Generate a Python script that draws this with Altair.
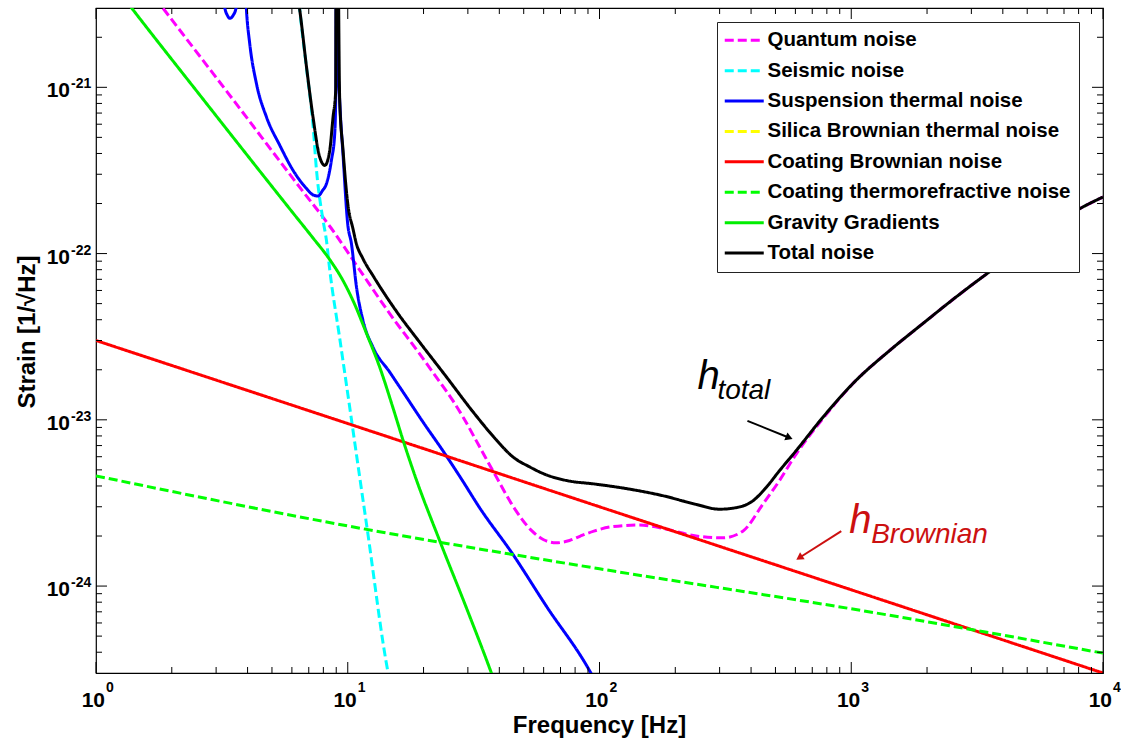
import altair as alt
import pandas as pd

FONT = "Liberation Sans"
W, H = 1007, 665  # plot area in pixels

# ---------------------------------------------------------------- noise curves
# frequency [Hz] / strain [1/sqrt(Hz)]
quantum_f = [1.6, 1.85, 3.51, 6.45, 8.6, 11.2, 14.7, 19.3, 22.4, 26.2, 28.7, 33.4,
             38.9, 45.3, 53.5, 60.0, 67.3, 76.0, 84.0, 95.0, 113, 144, 184, 242,
             309, 371, 445, 518, 603, 769, 1042, 1416, 1919, 2600, 3750, 8280,
             10000]
quantum_h = [3.98e-21, 2.98e-21, 8.4e-22, 2.5e-22, 1.42e-22, 7.9e-23, 4.34e-23,
             2.49e-23, 1.82e-23, 1.30e-23, 1.04e-23, 6.88e-24, 4.54e-24, 3.03e-24,
             2.17e-24, 1.9e-24, 1.82e-24, 1.88e-24, 2.0e-24, 2.14e-24, 2.28e-24,
             2.33e-24, 2.2e-24, 2.0e-24, 1.95e-24, 2.14e-24, 3.1e-24, 4.3e-24,
             6.2e-24, 1.01e-23, 1.72e-23, 2.6e-23, 3.78e-23, 5.46e-23, 8.28e-23,
             1.9e-22, 2.19e-22]

seismic_f = [6.2, 6.45, 6.86, 7.28, 7.51, 7.98, 8.23, 8.48, 9.29, 10.18, 11.16,
             11.9, 14.5, 15.0]
seismic_h = [5.5e-21, 2.9e-21, 1.3e-21, 5.9e-22, 3.2e-22, 1.58e-22, 1.2e-22,
             8.0e-23, 3.1e-23, 1.19e-23, 4.5e-24, 2.3e-24, 2.95e-25, 2.3e-25]

susp_f = [3.15, 3.25, 3.33, 3.40, 3.50, 3.60, 3.68, 3.80, 3.90, 3.96, 4.08, 4.34,
          4.76, 5.37, 6.07, 6.86, 7.3, 7.62, 7.95, 8.23, 8.61, 8.88, 8.97, 9.02,
          9.08, 9.3, 9.58, 10.0, 10.34, 10.83, 11.5, 12.6, 14.7, 17.1, 19.9, 23.9,
          28.3, 33.4, 45.3, 61.4, 91.3, 96.0]
susp_h = [4.5e-21, 3.0e-21, 2.7e-21, 2.6e-21, 2.7e-21, 3.0e-21, 4.5e-21, 3e-20,
          4.5e-21, 2.9e-21, 1.83e-21, 1.05e-21, 6.6e-22, 4.48e-22, 3.16e-22,
          2.46e-22, 2.25e-22, 2.22e-22, 2.4e-22, 2.63e-22, 3.63e-22, 5.3e-22,
          1.0e-21, 3e-20, 2.0e-21, 8.0e-22, 3.9e-22, 1.5e-22, 1.15e-22, 6.3e-23,
          3.95e-23, 2.73e-23, 1.93e-23, 1.37e-23, 9.7e-24, 6.5e-24, 4.4e-24,
          2.96e-24, 1.55e-24, 7.6e-25, 3.1e-25, 2.7e-25]

brown_f = [1, 10, 100, 1000, 10000]
brown_h = [3.0e-23, 9.5e-24, 3.0e-24, 9.5e-25, 3.0e-25]

thermo_f = [1, 10, 100, 1000, 10000]
thermo_h = [4.6e-24, 2.3e-24, 1.27e-24, 7.3e-25, 3.95e-25]

grav_f = [1.3, 1.39, 2.59, 6.07, 7.28, 8.48, 9.58, 10.5, 11.9, 13.4, 15.1, 16.6,
          18.5, 23.2, 29.6, 37.2, 38.5]
grav_h = [3.4e-21, 2.98e-21, 8.95e-22, 1.75e-22, 1.24e-22, 9.2e-23, 6.87e-23,
          5.2e-23, 3.28e-23, 2.07e-23, 1.19e-23, 7.5e-24, 4.6e-24, 1.87e-24,
          7.4e-25, 3.0e-25, 2.6e-25]

total_f = [6.1, 6.45, 6.86, 7.28, 7.74, 8.11, 8.48, 8.74, 8.96, 8.99, 9.06, 9.29,
           9.58, 10.0, 10.5, 10.8, 11.5, 12.6, 15.6, 19.3, 24.6, 31.4, 38.9, 45.3,
           52.8, 61.4, 73.7, 97, 131.6, 178, 242, 299, 348, 406, 458, 518, 603,
           769, 1042, 1416, 1919, 2600, 3750, 8280, 10000]
total_h = [5.0e-21, 2.9e-21, 1.32e-21, 6.6e-22, 3.8e-22, 3.39e-22, 4.17e-22,
           6.6e-22, 9.6e-22, 3e-20, 3e-20, 8.4e-22, 4.17e-22, 2.0e-22, 1.40e-22,
           1.16e-22, 9.3e-23, 7.36e-23, 4.5e-23, 2.93e-23, 1.82e-23, 1.12e-23,
           7.58e-24, 5.98e-24, 5.21e-24, 4.67e-24, 4.32e-24, 4.1e-24, 3.83e-24,
           3.5e-24, 3.1e-24, 2.9e-24, 2.96e-24, 3.25e-24, 3.9e-24, 4.93e-24,
           6.5e-24, 1.03e-23, 1.72e-23, 2.6e-23, 3.78e-23, 5.46e-23, 8.28e-23,
           1.9e-22, 2.19e-22]

# legend entries (the silica term lies below the plotted range)
names = ["Quantum noise", "Seismic noise", "Suspension thermal noise",
         "Silica Brownian thermal noise", "Coating Brownian noise",
         "Coating thermorefractive noise", "Gravity Gradients", "Total noise"]
colors = ["#ff00ff", "#00ffff", "#0000ff", "#ffff00", "#ff0000", "#00ff00",
          "#00ee00", "#000000"]
dashes = [[9, 4], [9, 4], [1, 0], [9, 4], [1, 0], [9, 4], [1, 0], [1, 0]]

curves = [
    ("Quantum noise", quantum_f, quantum_h),
    ("Seismic noise", seismic_f, seismic_h),
    ("Suspension thermal noise", susp_f, susp_h),
    ("Coating Brownian noise", brown_f, brown_h),
    ("Coating thermorefractive noise", thermo_f, thermo_h),
    ("Gravity Gradients", grav_f, grav_h),
    ("Total noise", total_f, total_h),
]

# axis decorations
x_major = [1, 10, 100, 1000, 10000]
x_exp = ["0", "1", "2", "3", "4"]
x_minor = [m * 10 ** d for d in range(4) for m in range(2, 10)]
y_major = [1e-24, 1e-23, 1e-22, 1e-21]
y_exp = ["-24", "-23", "-22", "-21"]
y_minor = [m * 10.0 ** e for e in range(-25, -20) for m in range(2, 10)
           if 3.05e-25 < m * 10.0 ** e < 2.95e-21]
x_title = "Frequency [Hz]"
y_title = "Strain [1/√Hz]"

# annotations: label anchors and arrows (frequency, strain)
total_label = {"h": (245, 1.54e-23), "sub": (294, 1.34e-23), "text": "total"}
brown_label = {"h": (982, 2.09e-24), "sub": (1200, 1.82e-24), "text": "Brownian"}
arrow_f1 = [387, 913]
arrow_h1 = [9.86e-24, 2.14e-24]
arrow_f2 = [567, 622]
arrow_h2 = [7.8e-24, 1.48e-24]
arrow_angle = [22, 147]
arrow_color = ["#000000", "#cc1010"]

# ---------------------------------------------------------------- chart
xs = alt.Scale(type="log", domain=[1, 10000])
ys = alt.Scale(type="log", domain=[3e-25, 3e-21])
color_scale = alt.Scale(domain=names, range=colors)
dash_scale = alt.Scale(domain=names, range=dashes)

leg = alt.Legend(
    title=None, orient="none", legendX=621, legendY=14,
    symbolType="M-2.1,0H5.7", symbolSize=100, symbolStrokeWidth=3,
    labelFont=FONT, labelFontSize=20.5, labelFontWeight="bold",
    labelColor="black", labelOffset=22, labelLimit=400,
    rowPadding=9.4, padding=8, fillColor="white", strokeColor="#222222",
)

layers = []
for name, fs, hs in curves:
    df = pd.DataFrame({"f": fs, "h": hs, "series": name})
    layers.append(
        alt.Chart(df).mark_line(clip=True, strokeWidth=3,
                                interpolate="monotone").encode(
            x=alt.X("f:Q", scale=xs, axis=None),
            y=alt.Y("h:Q", scale=ys, axis=None),
            color=alt.Color("series:N", scale=color_scale, legend=leg),
            strokeDash=alt.StrokeDash("series:N", scale=dash_scale, legend=leg),
        )
    )


def x_ticks(values, length):
    d = pd.DataFrame({"v": values})
    xe = alt.X("v:Q", scale=xs, axis=None)
    bottom = alt.Chart(d).mark_rule(color="black", strokeWidth=1).encode(
        x=xe, y=alt.value(H), y2=alt.value(H - length))
    top = alt.Chart(d).mark_rule(color="black", strokeWidth=1).encode(
        x=xe, y=alt.value(0), y2=alt.value(length))
    return [bottom, top]


def y_ticks(values, length):
    d = pd.DataFrame({"v": values})
    ye = alt.Y("v:Q", scale=ys, axis=None)
    left = alt.Chart(d).mark_rule(color="black", strokeWidth=1).encode(
        y=ye, x=alt.value(0), x2=alt.value(length))
    right = alt.Chart(d).mark_rule(color="black", strokeWidth=1).encode(
        y=ye, x=alt.value(W), x2=alt.value(W - length))
    return [left, right]


layers += x_ticks(x_major, 11) + x_ticks(x_minor, 6)
layers += y_ticks(y_major, 11) + y_ticks(y_minor, 6)

# tick labels written as 10 with a raised exponent
xl = pd.DataFrame({"v": x_major, "e": x_exp})
layers.append(alt.Chart(xl).mark_text(
    align="right", baseline="alphabetic", dx=9, font=FONT, fontSize=21,
    fontWeight="bold", color="black", text="10").encode(
    x=alt.X("v:Q", scale=xs, axis=None), y=alt.value(699)))
layers.append(alt.Chart(xl).mark_text(
    align="left", baseline="alphabetic", dx=10, font=FONT, fontSize=14,
    fontWeight="bold", color="black").encode(
    x=alt.X("v:Q", scale=xs, axis=None), y=alt.value(684), text="e:N"))

yl = pd.DataFrame({"v": y_major, "e": y_exp})
layers.append(alt.Chart(yl).mark_text(
    align="right", baseline="alphabetic", dy=10, font=FONT, fontSize=21,
    fontWeight="bold", color="black", text="10").encode(
    y=alt.Y("v:Q", scale=ys, axis=None), x=alt.value(-26)))
layers.append(alt.Chart(yl).mark_text(
    align="left", baseline="alphabetic", dy=1, font=FONT, fontSize=14,
    fontWeight="bold", color="black").encode(
    y=alt.Y("v:Q", scale=ys, axis=None), x=alt.value(-25), text="e:N"))

# axis titles
layers.append(alt.Chart(pd.DataFrame({"t": [x_title]})).mark_text(
    align="center", baseline="alphabetic", font=FONT, fontSize=24,
    fontWeight="bold", color="black").encode(
    x=alt.value(W / 2), y=alt.value(725), text="t:N"))
layers.append(alt.Chart(pd.DataFrame({"t": [y_title]})).mark_text(
    align="center", baseline="alphabetic", angle=270, font=FONT, fontSize=24,
    fontWeight="bold", color="black").encode(
    x=alt.value(-61), y=alt.value(324), text="t:N"))

# annotations
for lab, col in ((total_label, "black"), (brown_label, "#cc1010")):
    for key, size, txt in (("h", 40, "h"), ("sub", 28, lab["text"])):
        f0, h0 = lab[key]
        layers.append(alt.Chart(pd.DataFrame({"f": [f0], "h": [h0]})).mark_text(
            align="left", baseline="alphabetic", font=FONT, fontSize=size,
            fontStyle="italic", color=col, text=txt).encode(
            x=alt.X("f:Q", scale=xs, axis=None),
            y=alt.Y("h:Q", scale=ys, axis=None)))

arrows = pd.DataFrame({"f1": arrow_f1, "h1": arrow_h1, "f2": arrow_f2,
                       "h2": arrow_h2, "ang": arrow_angle, "c": arrow_color})
layers.append(alt.Chart(arrows).mark_rule(strokeWidth=2).encode(
    x=alt.X("f1:Q", scale=xs, axis=None), x2="f2:Q",
    y=alt.Y("h1:Q", scale=ys, axis=None), y2="h2:Q",
    color=alt.Color("c:N", scale=None, legend=None)))
layers.append(alt.Chart(arrows).mark_point(
    shape="triangle-right", filled=True, size=70, opacity=1).encode(
    x=alt.X("f2:Q", scale=xs, axis=None),
    y=alt.Y("h2:Q", scale=ys, axis=None),
    angle=alt.Angle("ang:Q", scale=None),
    color=alt.Color("c:N", scale=None, legend=None)))

chart = alt.layer(*layers).properties(
    width=W, height=H,
    padding={"left": 96, "top": 8, "right": 18, "bottom": 68},
    autosize=alt.AutoSizeParams(type="none"),
    background="white",
).configure_view(stroke="black", strokeWidth=1.2)

chart.save("out.html", embed_options={"renderer": "svg", "actions": False})
